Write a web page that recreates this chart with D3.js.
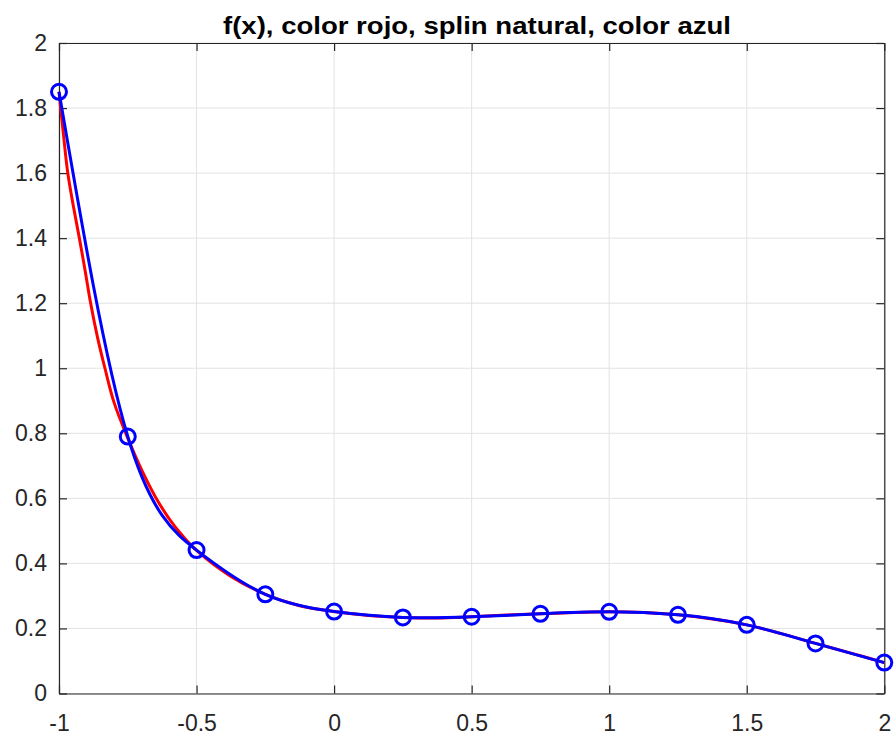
<!DOCTYPE html>
<html>
<head>
<meta charset="utf-8">
<script src="https://cdn.jsdelivr.net/npm/d3@7"></script>
<style>
html,body{margin:0;padding:0;background:#fff;}
svg{display:block;}
text{font-family:"Liberation Sans",Arial,Helvetica,sans-serif;}
</style>
</head>
<body>
<svg id="chart" width="894" height="738"></svg>
<script>
// Nodes (blue circles, natural spline)
const nodeX = [-1, -0.75, -0.5, -0.25, 0, 0.25, 0.5, 0.75, 1, 1.25, 1.5, 1.75, 2];
const nodeY = [1.85, 0.79, 0.441, 0.305, 0.252, 0.234, 0.236, 0.245, 0.251, 0.242, 0.211, 0.154, 0.095];
// f(x) red curve samples
const fX = [-1, -0.984, -0.968, -0.947, -0.926, -0.905, -0.885, -0.86, -0.833, -0.8, -0.75, -0.7, -0.65, -0.6, -0.55, -0.5, -0.375, -0.25, -0.125, 0, 0.125, 0.25, 0.375, 0.5, 0.625, 0.75, 0.875, 1, 1.125, 1.25, 1.375, 1.5, 1.625, 1.75, 1.875, 2];
const fY = [1.85, 1.72, 1.6, 1.495, 1.4, 1.3, 1.2, 1.095, 1.0, 0.895, 0.785, 0.688, 0.605, 0.538, 0.484, 0.44, 0.36, 0.305, 0.27, 0.252, 0.24, 0.234, 0.232, 0.236, 0.241, 0.245, 0.249, 0.251, 0.249, 0.242, 0.229, 0.211, 0.184, 0.154, 0.125, 0.095];
const xTicks = [-1, -0.5, 0, 0.5, 1, 1.5, 2];
const yTicks = [0, 0.2, 0.4, 0.6, 0.8, 1, 1.2, 1.4, 1.6, 1.8, 2];
const xTickLabels = ["-1", "-0.5", "0", "0.5", "1", "1.5", "2"];
const yTickLabels = ["0", "0.2", "0.4", "0.6", "0.8", "1", "1.2", "1.4", "1.6", "1.8", "2"];
const titleText = "f(x), color rojo, splin natural, color azul";

const L = 59, R = 884.3, T = 43, B = 693.5;
const svg = d3.select("#chart");
const x = d3.scaleLinear().domain([-1, 2]).range([L, R]);
const y = d3.scaleLinear().domain([0, 2]).range([B, T]);

// grid
const g = svg.append("g");
g.selectAll(".gx").data(xTicks).enter().append("line")
  .attr("x1", d => x(d)).attr("x2", d => x(d)).attr("y1", T).attr("y2", B)
  .attr("stroke", "#e3e3e3").attr("stroke-width", 1);
g.selectAll(".gy").data(yTicks).enter().append("line")
  .attr("y1", d => y(d)).attr("y2", d => y(d)).attr("x1", L).attr("x2", R)
  .attr("stroke", "#e3e3e3").attr("stroke-width", 1);

// axes
const fmtX = (d) => xTickLabels[xTicks.indexOf(d)];
const fmtY = (d) => yTickLabels[yTicks.indexOf(d)];
const axB = svg.append("g").attr("transform", `translate(0,${B})`)
  .call(d3.axisBottom(x).tickValues(xTicks).tickFormat(fmtX).tickSizeInner(-8).tickSizeOuter(0).tickPadding(21));
const axL = svg.append("g").attr("transform", `translate(${L},0)`)
  .call(d3.axisLeft(y).tickValues(yTicks).tickFormat(fmtY).tickSizeInner(-8).tickSizeOuter(0).tickPadding(12));
const axT = svg.append("g").attr("transform", `translate(0,${T})`)
  .call(d3.axisTop(x).tickValues(xTicks).tickFormat("").tickSizeInner(-8).tickSizeOuter(0));
const axR = svg.append("g").attr("transform", `translate(${R},0)`)
  .call(d3.axisRight(y).tickValues(yTicks).tickFormat("").tickSizeInner(-8).tickSizeOuter(0));
[axB, axL, axT, axR].forEach(a => {
  a.selectAll("path").attr("stroke", "#262626").attr("stroke-width", 1.2);
  a.selectAll("line").attr("stroke", "#262626").attr("stroke-width", 1.2);
  a.selectAll("text").attr("fill", "#262626").style("font-size", "23px")
    .style("font-family", "'Liberation Sans', Arial, sans-serif");
});

// red f(x)
const lineF = d3.line().x((d, i) => x(fX[i])).y((d, i) => y(fY[i])).curve(d3.curveCatmullRom.alpha(0.5));
svg.append("path").datum(fX).attr("d", lineF)
  .attr("fill", "none").attr("stroke", "#ff0000").attr("stroke-width", 3);

// blue natural spline
const lineS = d3.line().x((d, i) => x(nodeX[i])).y((d, i) => y(nodeY[i])).curve(d3.curveNatural);
svg.append("path").datum(nodeX).attr("d", lineS)
  .attr("fill", "none").attr("stroke", "#0000ff").attr("stroke-width", 3);

svg.selectAll(".pt").data(nodeX).enter().append("circle")
  .attr("cx", (d, i) => x(nodeX[i])).attr("cy", (d, i) => y(nodeY[i])).attr("r", 7.5)
  .attr("fill", "none").attr("stroke", "#0000ff").attr("stroke-width", 3);

// title
svg.append("text").attr("x", 477).attr("y", 34).attr("text-anchor", "middle")
  .style("font-size", "24px").style("font-weight", "bold").attr("fill", "#000")
  .attr("textLength", 508).attr("lengthAdjust", "spacingAndGlyphs")
  .text(titleText);
</script>
</body>
</html>
